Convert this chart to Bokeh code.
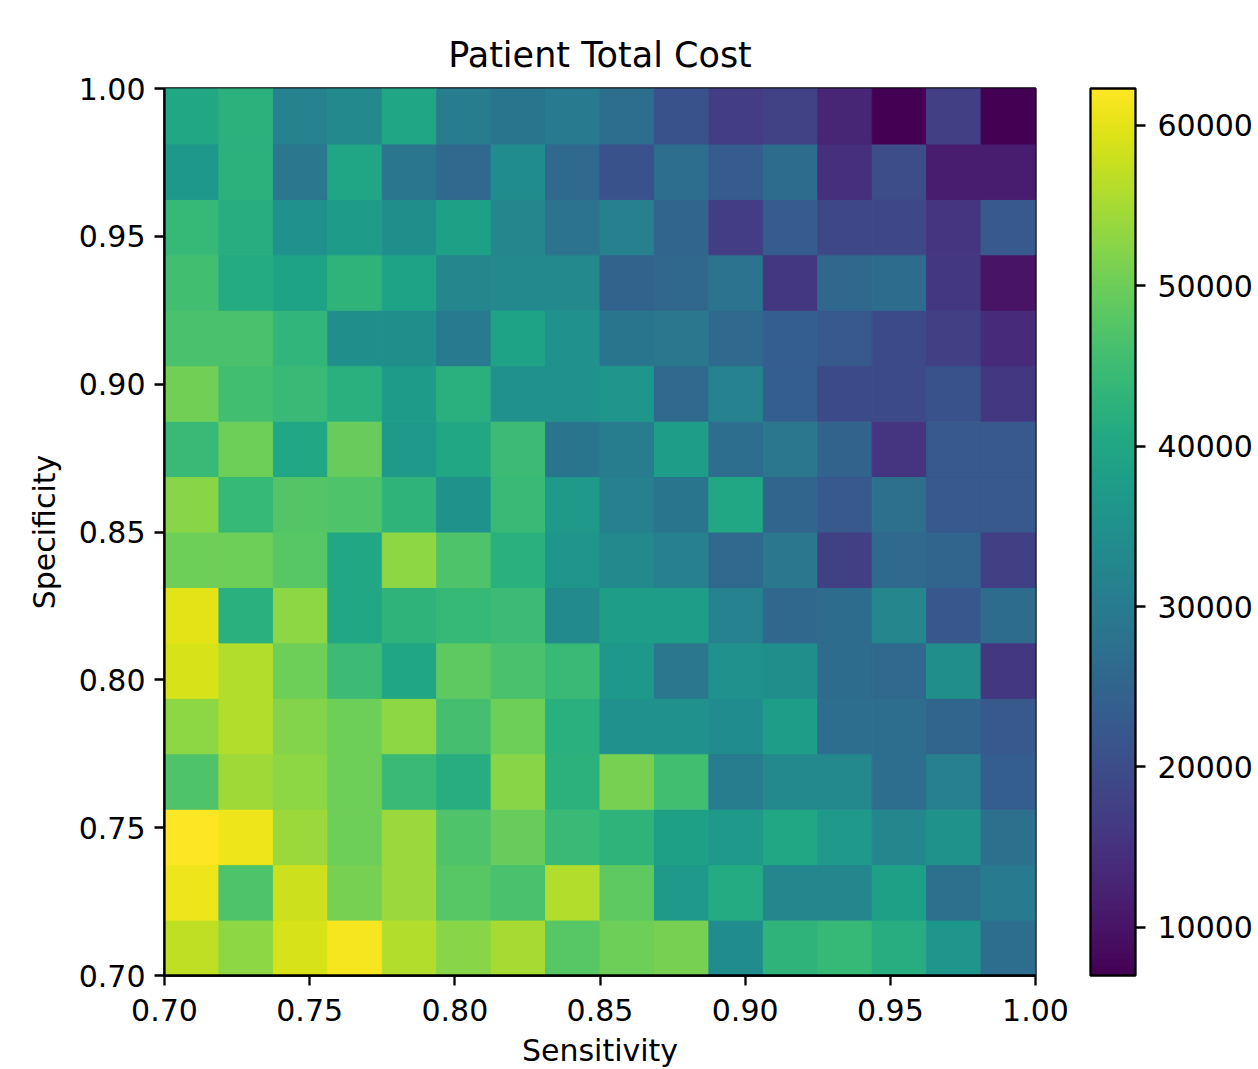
import numpy as np
from bokeh.plotting import figure
from bokeh.models import (ColumnDataSource, LinearColorMapper, ColorBar, FixedTicker,
                          PrintfTickFormatter, Range1d)
from bokeh.palettes import Viridis256
from bokeh.transform import transform
from bokeh.embed import file_html
from bokeh.resources import INLINE

# Bin edges (16 x 16 grid)
sensitivity_edges = np.linspace(0.70, 1.00, 17)
specificity_edges = np.linspace(0.70, 1.00, 17)

# Patient total cost, one list per specificity row (row15 = top, row00 = bottom),
# each list ordered by sensitivity from 0.70 to 1.00
row15 = [40000, 42500, 31500, 33000, 39500, 30500, 28500, 30000, 27000, 21000, 17000, 18000, 13000, 7000, 17500, 7000]
row14 = [36500, 42500, 29000, 39500, 28800, 26000, 34000, 26000, 21000, 27000, 23000, 26500, 14500, 20000, 11500, 11500]
row13 = [44000, 41500, 35000, 37500, 34500, 38500, 32500, 28000, 31000, 25000, 17000, 23000, 19000, 19000, 15500, 22500]
row12 = [45500, 41000, 39000, 43000, 39000, 32500, 33000, 33000, 24500, 25500, 28000, 16000, 25500, 26500, 16000, 10000]
row11 = [46500, 46500, 43500, 34500, 34500, 29500, 39000, 35000, 28500, 29000, 26000, 23500, 22500, 19500, 17500, 13500]
row10 = [50500, 45500, 44500, 42000, 37500, 42000, 35000, 35000, 36000, 26000, 31500, 23500, 19500, 19500, 21000, 16000]
row09 = [44500, 50000, 40000, 49500, 37000, 40000, 45000, 28500, 30500, 38000, 27000, 29000, 24500, 15500, 22500, 22500]
row08 = [52500, 44000, 47500, 47000, 43000, 35500, 44500, 37000, 31000, 28500, 40000, 25000, 22500, 27500, 22500, 22500]
row07 = [50000, 50000, 48000, 40000, 53000, 47000, 42000, 36000, 33000, 31000, 26000, 29000, 17500, 26000, 25000, 17500]
row06 = [60000, 42000, 53000, 40000, 43000, 44000, 45000, 33500, 38000, 38000, 31500, 25500, 26500, 32500, 22000, 26500]
row05 = [59000, 56000, 50000, 45000, 39500, 48500, 46500, 44500, 36500, 29000, 35000, 34500, 26500, 26000, 34500, 16000]
row04 = [53000, 56000, 52000, 50000, 53000, 46000, 50000, 42000, 35000, 35000, 34000, 38000, 27000, 27000, 25000, 22500]
row03 = [47000, 54500, 53000, 50000, 44500, 41500, 52500, 42500, 51000, 45500, 30500, 33000, 33000, 27000, 31000, 23500]
row02 = [62300, 61000, 54000, 50000, 54000, 47000, 49500, 44500, 43000, 38500, 37000, 40000, 37000, 32500, 35500, 27500]
row01 = [61000, 47000, 58000, 51000, 54000, 48000, 46500, 56000, 48500, 37000, 41000, 32500, 32500, 38500, 27500, 30000]
row00 = [57000, 53000, 59000, 61500, 56000, 52500, 55000, 48000, 50000, 51000, 34000, 43000, 44000, 41500, 36000, 27000]

axis_ticks = [0.70, 0.75, 0.80, 0.85, 0.90, 0.95, 1.00]
colorbar_ticks = [10000, 20000, 30000, 40000, 50000, 60000]

rows = [row00, row01, row02, row03, row04, row05, row06, row07,
        row08, row09, row10, row11, row12, row13, row14, row15]
cost = np.array(rows, dtype=float)

left, right, bottom, top, vals = [], [], [], [], []
for j in range(16):
    for i in range(16):
        left.append(sensitivity_edges[i]); right.append(sensitivity_edges[i + 1])
        bottom.append(specificity_edges[j]); top.append(specificity_edges[j + 1])
        vals.append(cost[j, i])
src = ColumnDataSource(dict(left=left, right=right, bottom=bottom, top=top, cost=vals))

mapper = LinearColorMapper(palette=Viridis256, low=cost.min(), high=cost.max())

FONT = "DejaVu Sans"
LW = 2.3
TICK_FS = "30px"

p = figure(frame_width=871, frame_height=887,
           x_range=Range1d(0.70, 1.00), y_range=Range1d(0.70, 1.00),
           output_backend="svg", toolbar_location=None,
           min_border_left=164, min_border_top=88, min_border_bottom=0, min_border_right=215,
           title="Patient Total Cost")
p.quad(left="left", right="right", bottom="bottom", top="top", source=src,
       fill_color=transform("cost", mapper), line_color=transform("cost", mapper), line_width=1)

p.grid.visible = False
p.outline_line_color = "black"
p.outline_line_width = LW
p.background_fill_color = "white"
p.border_fill_color = "white"

p.title.text_font = FONT
p.title.text_font_size = "35px"
p.title.text_font_style = "normal"
p.title.text_color = "black"
p.title.align = "center"
p.title.standoff = 28

for ax in (p.xaxis[0], p.yaxis[0]):
    ax.ticker = FixedTicker(ticks=axis_ticks)
    ax.formatter = PrintfTickFormatter(format="%.2f")
    ax.major_label_text_font = FONT
    ax.major_label_text_font_size = TICK_FS
    ax.major_label_text_color = "black"
    ax.axis_label_text_font = FONT
    ax.axis_label_text_font_size = TICK_FS
    ax.axis_label_text_font_style = "normal"
    ax.axis_label_text_color = "black"
    ax.major_tick_out = 10
    ax.major_tick_in = 0
    ax.minor_tick_out = 0
    ax.minor_tick_in = 0
    ax.major_tick_line_width = LW
    ax.axis_line_width = LW
    ax.axis_line_color = "black"
    ax.major_tick_line_color = "black"

p.xaxis.major_label_standoff = 13
p.yaxis.major_label_standoff = 9
p.xaxis.axis_label = "Sensitivity"
p.yaxis.axis_label = "Specificity"
p.xaxis.axis_label_standoff = 9
p.yaxis.axis_label_standoff = 14

cb = ColorBar(color_mapper=mapper, ticker=FixedTicker(ticks=colorbar_ticks),
              formatter=PrintfTickFormatter(format="%d"),
              width=45, height=887, padding=0, margin=0, location=(55, 0),
              major_label_text_font=FONT, major_label_text_font_size=TICK_FS,
              major_label_text_color="black",
              major_tick_out=10, major_tick_in=0, major_tick_line_color="black",
              major_tick_line_width=LW, minor_tick_line_color=None,
              bar_line_color="black", bar_line_width=LW, label_standoff=12,
              border_line_color=None, background_fill_color="white")
p.add_layout(cb, "right")

open("out.html", "w").write(file_html(p, INLINE))
